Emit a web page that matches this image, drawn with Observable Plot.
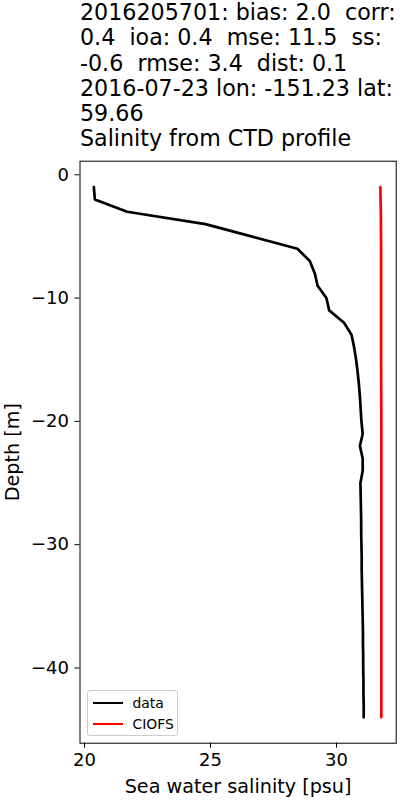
<!DOCTYPE html>
<html>
<head>
<meta charset="utf-8">
<script src="https://cdn.jsdelivr.net/npm/d3@7"></script>
<script src="https://cdn.jsdelivr.net/npm/@observablehq/plot@0.6"></script>
<style>
  html, body { margin: 0; padding: 0; background: #fff; }
  body { width: 400px; height: 800px; position: relative; font-family: "DejaVu Sans", sans-serif; overflow: hidden; }
  #title { height: 155px; box-sizing: border-box; padding-left: 80px; padding-top: 0px; font-family: "DejaVu Sans", sans-serif; font-size: 22.2px; line-height: 25.3px; white-space: pre; color: #000; }
  #legend { position: absolute; left: 86.5px; top: 690px; width: 91.5px; height: 46px; box-sizing: border-box; border: 1px solid #cccccc; border-radius: 3px; background: rgba(255,255,255,0.8); font-size: 13.9px; font-family: "DejaVu Sans", sans-serif; }
  .item { position: absolute; left: 5px; height: 20px; display: flex; align-items: center; }
  .swatch { width: 30px; height: 0; border-top: 2.7px solid; margin-right: 10px; }
</style>
</head>
<body>
<div id="title"></div>
<div id="chart"></div>
<div id="legend"></div>
<script>
// Title lines
const titleLines = [
  "2016205701: bias: 2.0  corr:",
  "0.4  ioa: 0.4  mse: 11.5  ss:",
  "-0.6  rmse: 3.4  dist: 0.1",
  "2016-07-23 lon: -151.23 lat:",
  "59.66",
  "Salinity from CTD profile"
];

// Observed CTD profile (data)
const dataDepth = [-1,-2,-3,-4,-5,-6,-7,-8,-9,-10,-11,-12,-13,-14,-15,-16,-17,-18,-19,-20,-21,-22,-23,-24,-25,-26,-27,-28,-29,-30,-31,-32,-33,-34,-35,-36,-37,-38,-39,-40,-41,-42,-43,-44];
const dataSal = [20.37,20.41,21.69,24.80,26.62,28.45,28.94,29.14,29.25,29.60,29.71,30.30,30.60,30.70,30.78,30.84,30.89,30.93,30.96,30.99,31.04,30.93,31.04,31.04,30.95,30.96,30.97,30.98,30.98,30.99,31.00,31.00,31.01,31.02,31.03,31.04,31.05,31.05,31.06,31.06,31.07,31.07,31.08,31.08];

// Model profile (CIOFS)
const modelDepth = [-1,-3,-6,-10,-15,-20,-30,-44];
const modelSal = [31.74,31.76,31.77,31.77,31.77,31.78,31.78,31.78];

// Axis ticks
const xTicks = [20,25,30];
const yTicks = [0,-10,-20,-30,-40];

// Legend entries
const legendNames = ["data","CIOFS"];
const legendColors = ["#000000","#ff0000"];

const titleEl = document.getElementById("title");
titleLines.forEach(t => { const d = document.createElement("div"); d.textContent = t; titleEl.appendChild(d); });

const dataRows = dataDepth.map((d,i) => ({depth: d, sal: dataSal[i]}));
const modelRows = modelDepth.map((d,i) => ({depth: d, sal: modelSal[i]}));

const chart = Plot.plot({
  width: 400,
  height: 645,
  marginLeft: 79.5,
  marginRight: 4.3,
  marginTop: 5.7,
  marginBottom: 57.3,
  style: {fontFamily: "DejaVu Sans", fontSize: "18px", color: "#000", background: "#fff", overflow: "visible"},
  x: {domain: [19.82, 32.37]},
  y: {domain: [-46.1, 1.1]},
  marks: [
    Plot.line(dataRows, {x: "sal", y: "depth", stroke: legendColors[0], strokeWidth: 2.7}),
    Plot.line(modelRows, {x: "sal", y: "depth", stroke: legendColors[1], strokeWidth: 2.7}),
    Plot.frame({stroke: "#000", strokeWidth: 1}),
    Plot.axisX({ticks: xTicks, tickSize: 5, tickPadding: 5, label: null, fontSize: 18}),
    Plot.axisX({ticks: [], tickSize: 0, label: "Sea water salinity [psu]", labelAnchor: "center", labelArrow: "none", labelOffset: 50, fontSize: 19.2}),
    Plot.axisY({ticks: yTicks, tickSize: 5, tickPadding: 6, label: null, fontSize: 18}),
    Plot.axisY({ticks: [], tickSize: 0, label: "Depth [m]", labelAnchor: "center", labelArrow: "none", labelOffset: 75, fontSize: 19.2})
  ]
});
document.getElementById("chart").appendChild(chart);

const leg = document.getElementById("legend");
legendNames.forEach((name, i) => {
  const it = document.createElement("div");
  it.className = "item";
  it.style.top = (2 + i * 20.7) + "px";
  const sw = document.createElement("div");
  sw.className = "swatch";
  sw.style.borderTopColor = legendColors[i];
  const tx = document.createElement("span");
  tx.textContent = name;
  it.appendChild(sw); it.appendChild(tx);
  leg.appendChild(it);
});
</script>
</body>
</html>
